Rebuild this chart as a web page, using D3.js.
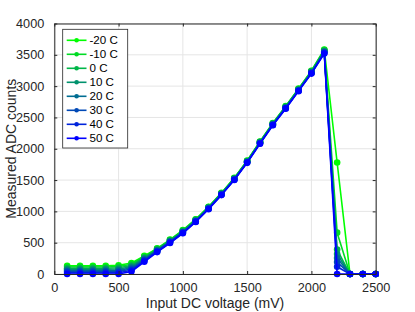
<!DOCTYPE html>
<html><head><meta charset="utf-8">
<script src="https://cdn.jsdelivr.net/npm/d3@7"></script>
<style>body{margin:0;background:#fff}svg{display:block;font-family:"Liberation Sans",Arial,sans-serif}</style>
</head><body><svg id="c" width="415" height="312"></svg>
<script>
const voltages = [100,200,300,400,500,600,700,800,900,1000,1100,1200,1300,1400,1500,1600,1700,1800,1900,2000,2100,2200,2300,2400,2500];
const seriesNames = ["-20 C","-10 C","0 C","10 C","20 C","30 C","40 C","50 C"];
const sM20 = [130,130,130,130,140,175,290,410,550,700,875,1075,1295,1535,1810,2115,2410,2680,2960,3245,3585,1780,0,0,0];
const sM10 = [112,112,112,112,120,155,276,401,542,693,869,1069,1290,1530,1805,2110,2405,2674,2954,3239,3576,660,0,0,0];
const s0   = [93,93,93,93,100,136,263,393,534,686,862,1064,1285,1525,1800,2105,2400,2669,2949,3232,3566,390,0,0,0];
const s10  = [75,75,75,75,80,117,249,384,526,679,856,1058,1280,1520,1795,2100,2395,2663,2943,3226,3557,320,0,0,0];
const s20  = [56,56,56,56,60,98,236,376,519,671,849,1052,1275,1515,1790,2095,2390,2657,2937,3219,3548,255,0,0,0];
const s30  = [38,38,38,38,40,79,222,367,511,664,843,1046,1270,1510,1785,2090,2385,2651,2931,3213,3539,190,0,0,0];
const s40  = [19,19,19,19,20,59,209,359,503,657,836,1041,1265,1505,1780,2085,2380,2646,2926,3206,3529,115,0,0,0];
const s50  = [0,0,0,0,0,40,195,350,495,650,830,1035,1260,1500,1775,2080,2375,2640,2920,3200,3520,0,0,0,0];
const seriesValues = [sM20,sM10,s0,s10,s20,s30,s40,s50];
const xTicks = [0,500,1000,1500,2000,2500];
const yTicks = [0,500,1000,1500,2000,2500,3000,3500,4000];
const xLabel = "Input DC voltage (mV)";
const yLabel = "Measured ADC counts";

const svg = d3.select("#c");
const L = 54.3, R = 375.7, T = 23.5, B = 274;
const x = d3.scaleLinear().domain([0,2500]).range([L,R]);
const y = d3.scaleLinear().domain([0,4000]).range([B,T]);
const color = i => d3.interpolateRgb("rgb(0,255,0)","rgb(0,0,255)")(i/(seriesNames.length-1));
const axisCol = "#262626";
const fmt = d3.format("d");

// grid
const g = svg.append("g");
g.selectAll(".gx").data(xTicks).join("line").attr("x1",d=>x(d)).attr("x2",d=>x(d)).attr("y1",T).attr("y2",B).attr("stroke","#e5e5e5").attr("stroke-width",1);
g.selectAll(".gy").data(yTicks).join("line").attr("y1",d=>y(d)).attr("y2",d=>y(d)).attr("x1",L).attr("x2",R).attr("stroke","#e5e5e5").attr("stroke-width",1);

// series
const line = d3.line().x((d,i)=>x(voltages[i])).y(d=>y(d));
seriesValues.forEach((vals,k)=>{
  const c = color(k);
  svg.append("path").datum(vals).attr("d",line).attr("fill","none").attr("stroke",c).attr("stroke-width",1.6).attr("stroke-linejoin","round");
  svg.append("g").selectAll("circle").data(vals).join("circle").attr("cx",(d,i)=>x(voltages[i])).attr("cy",d=>y(d)).attr("r",3.3).attr("fill",c);
});

// axes (ticks inside, box)
const tickSize = 3;
const ax = svg.append("g").attr("transform",`translate(0,${B})`).call(d3.axisBottom(x).tickValues(xTicks).tickFormat(fmt).tickSizeInner(-tickSize).tickSizeOuter(0).tickPadding(9));
const axT = svg.append("g").attr("transform",`translate(0,${T})`).call(d3.axisTop(x).tickValues(xTicks).tickSizeInner(-tickSize).tickSizeOuter(0).tickFormat(""));
const ay = svg.append("g").attr("transform",`translate(${L},0)`).call(d3.axisLeft(y).tickValues(yTicks).tickFormat(fmt).tickSizeInner(-tickSize).tickSizeOuter(0).tickPadding(10));
const ayR = svg.append("g").attr("transform",`translate(${R},0)`).call(d3.axisRight(y).tickValues(yTicks).tickSizeInner(-tickSize).tickSizeOuter(0).tickFormat(""));
[ax,axT,ay,ayR].forEach(a=>{
  a.select(".domain").attr("stroke",axisCol).attr("stroke-width",1);
  a.selectAll(".tick line").attr("stroke",axisCol);
  a.selectAll("text").attr("fill",axisCol).style("font-size","12.7px").style("font-family",'"Liberation Sans",Arial,sans-serif');
});

// axis labels
svg.append("text").attr("x",(L+R)/2).attr("y",307.5).attr("text-anchor","middle").attr("fill",axisCol).style("font-size","14px").text(xLabel);
svg.append("text").attr("transform",`translate(16,${(T+B)/2}) rotate(-90)`).attr("text-anchor","middle").attr("fill",axisCol).style("font-size","14px").text(yLabel);

// legend
const lg = svg.append("g");
lg.append("rect").attr("x",62.7).attr("y",29.3).attr("width",65).attr("height",118.7).attr("fill","#fff").attr("stroke",axisCol).attr("stroke-width",0.8);
seriesNames.forEach((n,k)=>{
  const yy = 40.3 + k*14.0;
  const c = color(k);
  lg.append("line").attr("x1",66.7).attr("x2",86.5).attr("y1",yy).attr("y2",yy).attr("stroke",c).attr("stroke-width",1.6);
  lg.append("circle").attr("cx",76.6).attr("cy",yy).attr("r",2.3).attr("fill",c);
  lg.append("text").attr("x",89.5).attr("y",yy+4.1).attr("fill","#000").style("font-size","11.6px").text(n);
});
</script></body></html>
